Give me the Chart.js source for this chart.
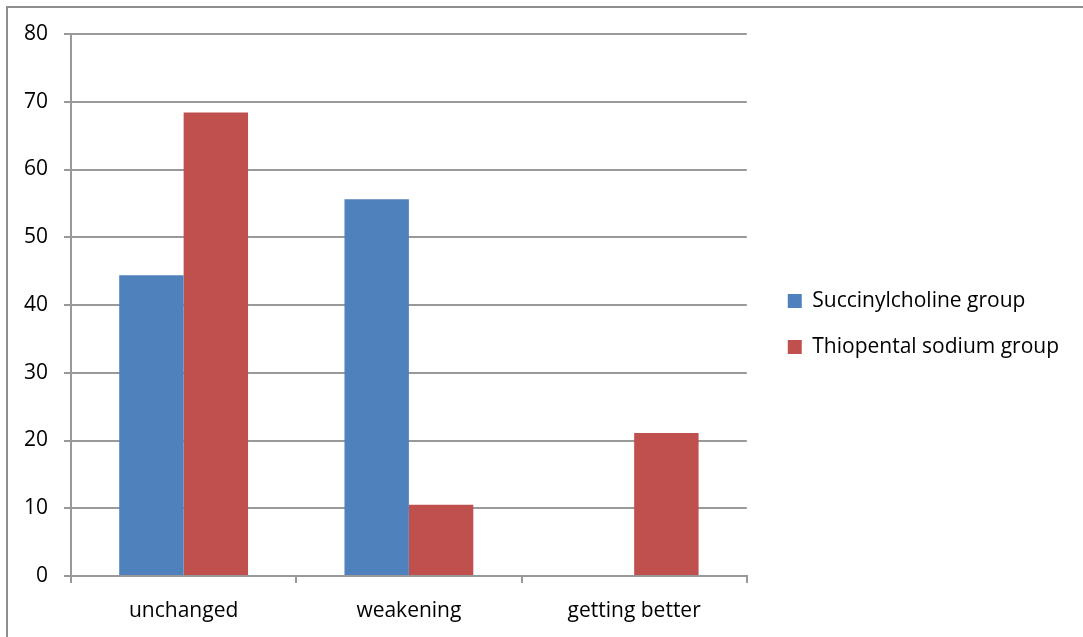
<!DOCTYPE html>
<html>
<head>
<meta charset="utf-8">
<script src="https://cdn.jsdelivr.net/npm/chart.js@4.4.1/dist/chart.umd.min.js"></script>
<style>
  body { margin: 0; background: #fff; }
  #wrap { position: relative; width: 1083px; height: 637px; overflow: hidden; }
  #frame { position: absolute; left: 6px; top: 6px; width: 1200px; height: 700px;
           border-top: 2px solid #8e8e8e; border-left: 2px solid #8e8e8e; pointer-events: none; }
  canvas { position: absolute; left: 0; top: 0; }
</style>
</head>
<body>
<div id="wrap">
  <canvas id="myChart" width="1083" height="637"></canvas>
  <div id="frame"></div>
</div>
<script>
var categories = ['unchanged', 'weakening', 'getting better'];
var succinyl_ls = [44.4, 55.6, 0];
var thiopental_ls = [68.4, 10.5, 21.1];
var series_names = ['Succinylcholine group', 'Thiopental sodium group'];
var corlor_ls = ['#4F81BD', '#C0504D'];
var y_max = 80;
var y_step = 10;

var font_ls = { family: "'Open Sans', 'DejaVu Sans', sans-serif", size: 21 };
var gridColor = '#999999';

// the layout caps a side legend at a quarter of the width; let it be as wide as its labels,
// and lift it a little so it sits level with the middle of the plot
var legendPlace = {
    id: 'legendPlace',
    afterInit: function (chart) {
        var lg = chart.legend;
        var fit0 = lg.fit.bind(lg);
        lg.fit = function () {
            this.maxWidth = 400;
            fit0();
        };
    },
    afterLayout: function (chart) {
        var lg = chart.legend;
        lg.top -= 6;
        lg.bottom -= 6;
    }
};

var canvas = document.getElementById('myChart');
var data2 = {
    labels: categories,
    datasets: [
        { label: series_names[0], data: succinyl_ls, backgroundColor: corlor_ls[0], borderWidth: 0 },
        { label: series_names[1], data: thiopental_ls, backgroundColor: corlor_ls[1], borderWidth: 0 }
    ]
};

var options = {
    responsive: false,
    animation: false,
    categoryPercentage: 0.572,
    barPercentage: 1,
    layout: {
        padding: { top: 34, bottom: 11, left: 0, right: 14 }
    },
    plugins: {
        tooltip: { enabled: false },
        legend: {
            position: 'right',
            labels: {
                boxWidth: 14,
                boxHeight: 14,
                padding: 25,
                color: '#000',
                font: font_ls
            }
        }
    },
    scales: {
        x: {
            grid: {
                offset: true,
                drawOnChartArea: false,
                drawTicks: true,
                tickLength: 7,
                lineWidth: 2,
                color: gridColor
            },
            border: { color: gridColor, width: 2 },
            ticks: { color: '#000', font: font_ls, padding: 15 },
            afterFit: function (s) { s.height = 50; }
        },
        y: {
            min: 0,
            max: y_max,
            ticks: { stepSize: y_step, color: '#000', font: font_ls, padding: 16 },
            grid: { color: gridColor, lineWidth: 2, tickLength: 7, drawTicks: true },
            border: { color: gridColor, width: 2 },
            afterFit: function (s) { s.width = 71; }
        },
        // spacer between the plot and the legend
        gap: {
            type: 'linear',
            position: 'right',
            display: true,
            grid: { display: false },
            border: { display: false },
            ticks: { display: false },
            afterFit: function (s) { s.width = 16; }
        }
    }
};

var myChart = new Chart(canvas, {
    type: 'bar',
    data: data2,
    options: options,
    plugins: [legendPlace]
});
</script>
</body>
</html>
